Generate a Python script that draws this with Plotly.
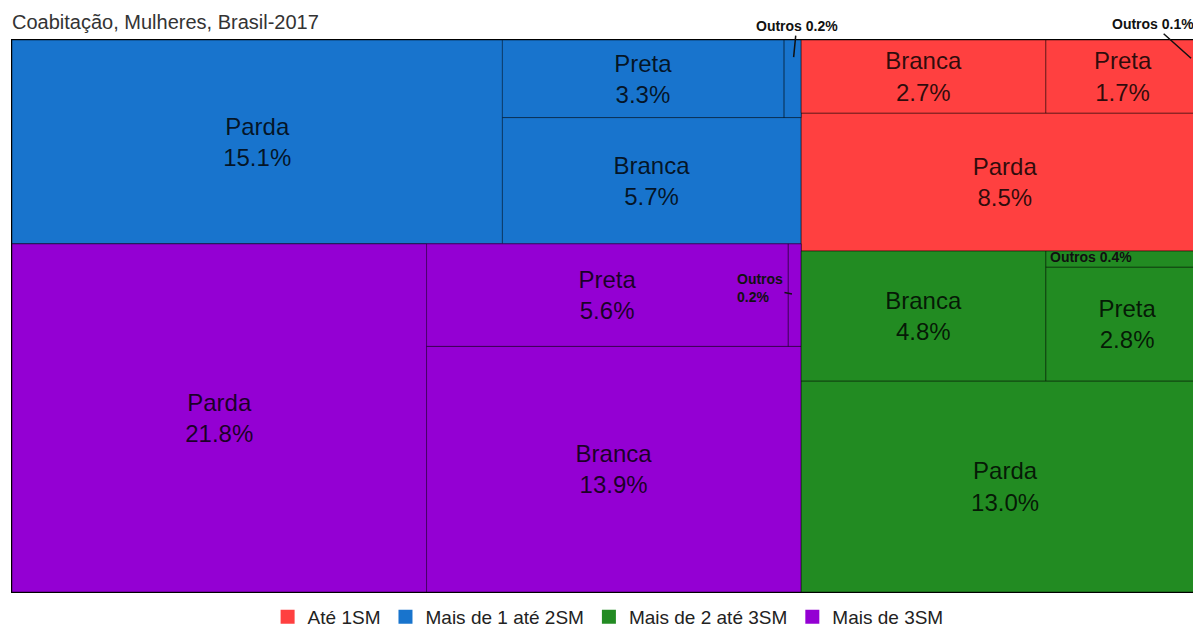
import plotly.graph_objects as go

# renda (salários mínimos) e cor/raça, % do total de mulheres em coabitação
grupos = ["Até 1SM", "Mais de 1 até 2SM", "Mais de 2 até 3SM", "Mais de 3SM"]
cores = ["#FF4040", "#1874CD", "#228B22", "#9400D3"]
parda = [8.5, 15.1, 13.0, 21.8]
branca = [2.7, 5.7, 4.8, 13.9]
preta = [1.7, 3.3, 2.8, 5.6]
outros = [0.1, 0.2, 0.4, 0.2]

FONT = "Liberation Sans, Arial, sans-serif"
LEAF_LINE = "rgba(0,0,0,0.45)"

ids, labels, parents, colors, texts, lw, lc = [], [], [], [], [], [], []


def node(i, parent, color="white", text="", width=0, line="black", label=None):
    ids.append(i)
    labels.append(label or i)
    parents.append(parent)
    colors.append(color)
    texts.append(text)
    lw.append(width)
    lc.append(line)


def leaf(i, parent, color, nome, v, show=True):
    t = f"{nome}<br>{v:.1f}%" if show else ""
    node(i, parent, color, t, 1, LEAF_LINE, label=nome)


# layout slice-dice: raiz -> colunas -> grupos -> blocos
node("root", "")
node("colL", "root")
node("colR", "root")

# coluna esquerda: 1-2SM (em cima) e >3SM (em baixo)
for g in (1, 3):
    gid = f"g{g}"
    node(gid, "colL", cores[g], width=2)
    leaf(f"{gid}parda", gid, cores[g], "Parda", parda[g])
    node(f"{gid}dir", gid, cores[g])
    node(f"{gid}topo", f"{gid}dir", cores[g])
    leaf(f"{gid}preta", f"{gid}topo", cores[g], "Preta", preta[g])
    leaf(f"{gid}outros", f"{gid}topo", cores[g], "Outros", outros[g], show=False)
    leaf(f"{gid}branca", f"{gid}dir", cores[g], "Branca", branca[g])

# coluna direita: até 1SM (em cima)
node("g0", "colR", cores[0], width=2)
node("g0w", "g0", cores[0])
node("g0topo", "g0w", cores[0])
leaf("g0branca", "g0topo", cores[0], "Branca", branca[0])
leaf("g0preta", "g0topo", cores[0], "Preta", preta[0])
leaf("g0outros", "g0topo", cores[0], "Outros", outros[0], show=False)
leaf("g0parda", "g0w", cores[0], "Parda", parda[0])

# 2-3SM (em baixo)
node("g2", "colR", cores[2], width=2)
node("g2w", "g2", cores[2])
node("g2topo", "g2w", cores[2])
leaf("g2branca", "g2topo", cores[2], "Branca", branca[2])
node("g2dir", "g2topo", cores[2])
leaf("g2outros", "g2dir", cores[2], "Outros", outros[2], show=False)
leaf("g2preta", "g2dir", cores[2], "Preta", preta[2])
leaf("g2parda", "g2w", cores[2], "Parda", parda[2])

vals = {f"g{g}parda": parda[g] for g in range(4)}
vals.update({f"g{g}branca": branca[g] for g in range(4)})
vals.update({f"g{g}preta": preta[g] for g in range(4)})
vals.update({f"g{g}outros": outros[g] for g in range(4)})
values = [vals.get(i, 0) for i in ids]

fig = go.Figure()
fig.add_trace(go.Treemap(
    ids=ids, labels=labels, parents=parents, values=values,
    branchvalues="remainder", sort=False,
    text=texts, textinfo="text", textposition="middle center",
    textfont=dict(family=FONT, size=24, color="rgba(0,0,0,0.82)"),
    marker=dict(colors=colors, line=dict(width=lw, color=lc),
                pad=dict(t=0, l=0, r=0, b=0), depthfade=False),
    tiling=dict(packing="slice-dice", pad=0),
    pathbar=dict(visible=False),
    hoverinfo="skip",
))

# legenda
for g, c in zip(grupos, cores):
    fig.add_trace(go.Scatter(x=[None], y=[None], mode="markers", name=g,
                             marker=dict(symbol="square", size=14, color=c)))

# rótulos dos blocos "Outros"
ann = dict(showarrow=True, arrowhead=0, arrowwidth=1.5, arrowcolor="#111",
           xref="paper", yref="paper",
           font=dict(family=FONT, size=14, color="#111"))
fig.add_annotation(text=f"<b>Outros {outros[1]:.1f}%</b>", x=0.653, y=0.969, ax=3, ay=-31, **ann)
fig.add_annotation(text=f"<b>Outros {outros[0]:.1f}%</b>", x=0.985, y=0.967, ax=-38, ay=-34, **ann)
fig.add_annotation(text=f"<b>Outros<br>{outros[3]:.1f}%</b>", x=0.6516, y=0.54, ax=-32, ay=-6,
                   align="left", **ann)
fig.add_annotation(text=f"<b>Outros {outros[2]:.1f}%</b>", x=0.9373, y=0.606, showarrow=False,
                   xref="paper", yref="paper", font=dict(family=FONT, size=14, color="#111"))

fig.update_layout(
    width=1201, height=626,
    margin=dict(l=4, r=0, t=32, b=42, autoexpand=False),
    paper_bgcolor="white", plot_bgcolor="white",
    font=dict(family=FONT, color="#222"),
    title=dict(text="Coabitação, Mulheres, Brasil-2017", x=4 / 1201, xref="container",
               xanchor="left", y=1 - 14 / 626, yref="container", yanchor="middle",
               font=dict(size=20, color="#333")),
    xaxis=dict(visible=False), yaxis=dict(visible=False),
    showlegend=True,
    legend=dict(orientation="h", x=0.498, xanchor="center", y=-0.045, yanchor="middle",
                font=dict(size=19, color="#222"), itemwidth=30),
)

fig.write_html("out.html")
